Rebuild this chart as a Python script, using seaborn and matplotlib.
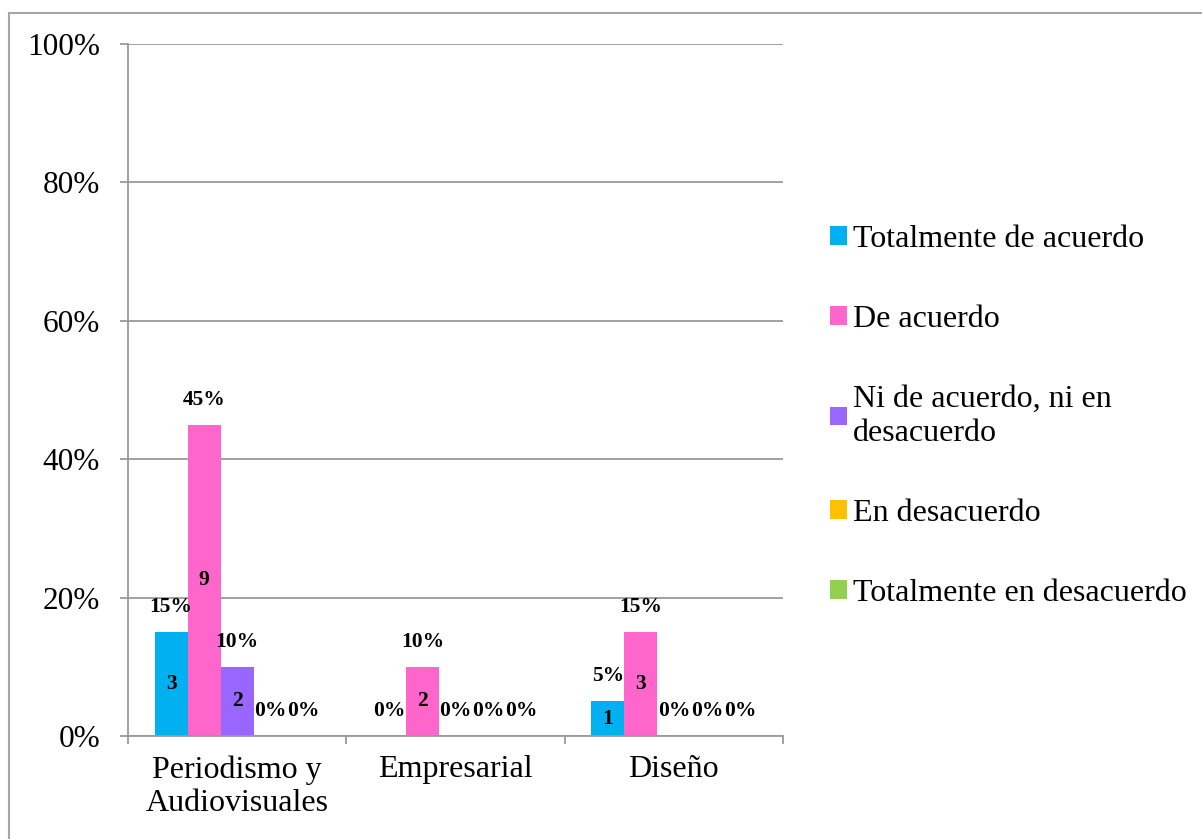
import matplotlib
matplotlib.use("Agg")
import matplotlib.pyplot as plt
import matplotlib.patches as mpatches
import seaborn as sns
import pandas as pd

carreras = ["Periodismo y\nAudiovisuales", "Empresarial", "Diseño"]
respuestas = ["Totalmente de acuerdo", "De acuerdo", "Ni de acuerdo, ni en\ndesacuerdo",
              "En desacuerdo", "Totalmente en desacuerdo"]
colores = ["#00B0F0", "#FF66CC", "#9966FF", "#FFC000", "#92D050"]

# porcentajes y conteos por respuesta (orden de carreras)
pct_totalmente = [0.15, 0.00, 0.05]
pct_de_acuerdo = [0.45, 0.10, 0.15]
pct_ni_ni = [0.10, 0.00, 0.00]
pct_desacuerdo = [0.00, 0.00, 0.00]
pct_tot_desacuerdo = [0.00, 0.00, 0.00]

n_totalmente = [3, 0, 1]
n_de_acuerdo = [9, 2, 3]
n_ni_ni = [2, 0, 0]
n_desacuerdo = [0, 0, 0]
n_tot_desacuerdo = [0, 0, 0]

pcts = [pct_totalmente, pct_de_acuerdo, pct_ni_ni, pct_desacuerdo, pct_tot_desacuerdo]
counts = [n_totalmente, n_de_acuerdo, n_ni_ni, n_desacuerdo, n_tot_desacuerdo]

rows = []
for r, p, c in zip(respuestas, pcts, counts):
    for car, v, n in zip(carreras, p, c):
        rows.append({"carrera": car, "respuesta": r, "pct": v, "n": n})
df = pd.DataFrame(rows)

sns.set_style("white")
plt.rcParams["font.family"] = ["Liberation Serif", "DejaVu Serif"]
plt.rcParams["text.color"] = "black"
plt.rcParams["xtick.color"] = "black"
plt.rcParams["ytick.color"] = "black"

fig = plt.figure(figsize=(12.02, 8.39), dpi=100)
ax = fig.add_axes([128 / 1202, 1 - 736 / 839, (783 - 128) / 1202, (736 - 44) / 839])

sns.barplot(data=df, x="carrera", y="pct", hue="respuesta", order=carreras,
            hue_order=respuestas, palette=colores, width=0.757, saturation=1,
            gap=0, linewidth=0, edgecolor="none", ax=ax, legend=False)

grid_col = "#9a9a9a"
ax.set_ylim(0, 1)
ax.set_xlim(-0.5, 2.5)
ax.set_yticks([0, 0.2, 0.4, 0.6, 0.8, 1.0])
ax.set_yticklabels(["0%", "20%", "40%", "60%", "80%", "100%"], fontsize=22.5)
ax.yaxis.grid(True, color=grid_col, linewidth=1.3)
ax.set_axisbelow(True)
ax.tick_params(axis="y", length=6, width=1.3, color=grid_col, pad=14, left=True)
ax.set_xticks([0, 1, 2])
ax.set_xticklabels(carreras, fontsize=23)
ax.tick_params(axis="x", length=0, pad=14)
ax.set_xticks([-0.5, 0.5, 1.5, 2.5], minor=True)
ax.tick_params(axis="x", which="minor", length=6, width=1.3, color=grid_col, bottom=True)
ax.set_xlabel("")
ax.set_ylabel("")
for s in ["top", "right"]:
    ax.spines[s].set_visible(False)
for s in ["left", "bottom"]:
    ax.spines[s].set_color(grid_col)
    ax.spines[s].set_linewidth(1.3)

# etiquetas de datos
for cont, p, c in zip(ax.containers, pcts, counts):
    for bar, v, n in zip(cont, p, c):
        xc = bar.get_x() + bar.get_width() / 2
        ax.annotate(f"{int(round(v * 100))}%", (xc, v), xytext=(0, 18),
                    textcoords="offset points", ha="center", va="center",
                    fontsize=15.5, fontweight="bold")
        if n > 0:
            ax.text(xc, v / 2, str(n), ha="center", va="center",
                    fontsize=15.5, fontweight="bold")

handles = [mpatches.Patch(facecolor=col, edgecolor="none") for col in colores]
fig.legend(handles, respuestas, loc="upper left", bbox_to_anchor=(830 / 1202, 1 - 225 / 839),
           frameon=False, fontsize=23, handlelength=0.52, handleheight=0.52,
           handletextpad=0.2, labelspacing=1.6, borderpad=0, borderaxespad=0)

# marco exterior
fig.patches.append(mpatches.Rectangle((9 / 1202, -0.1), 1.2, 0.1 + (839 - 13) / 839,
                                      transform=fig.transFigure, fill=False,
                                      edgecolor="#a6a6a6", linewidth=1.5))

fig.savefig("out.png", dpi=100)
